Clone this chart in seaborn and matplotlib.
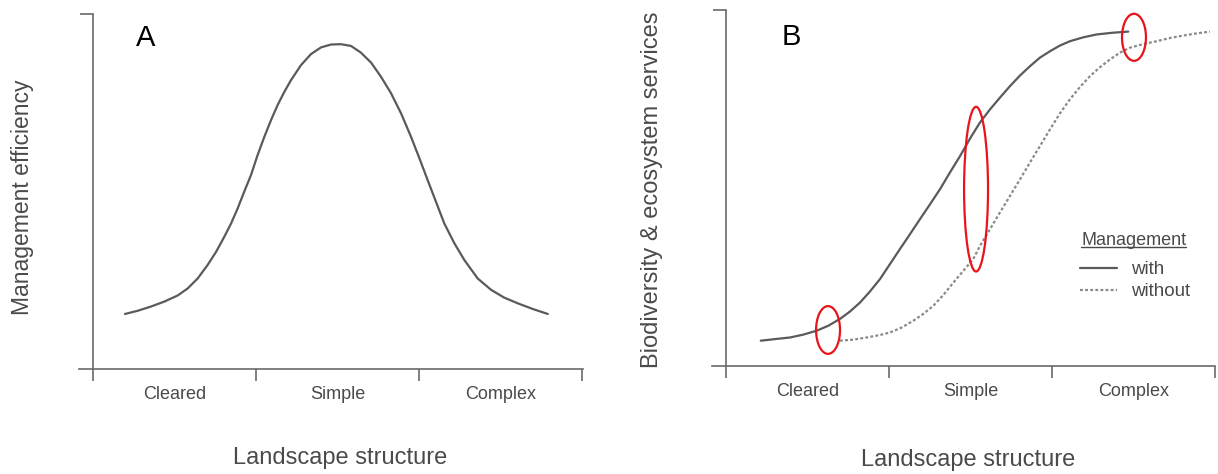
import matplotlib
matplotlib.use("Agg")
import matplotlib.pyplot as plt
import numpy as np
import pandas as pd
import seaborn as sns
from matplotlib.patches import Ellipse
from matplotlib.lines import Line2D

# ---------------- data ----------------
tick_positions = [0, 1, 2, 3]
category_positions = [0.5, 1.5, 2.5]
categories = ["Cleared", "Simple", "Complex"]

# Panel A: management efficiency along landscape structure
eff_x = [0.196, 0.274, 0.356, 0.438, 0.519, 0.581, 0.642, 0.703, 0.755, 0.806,
         0.847, 0.888, 0.928, 0.969, 1.010, 1.051, 1.092, 1.133, 1.174, 1.215,
         1.276, 1.337, 1.399, 1.460, 1.521, 1.583, 1.644, 1.706, 1.767, 1.828,
         1.890, 1.951, 2.002, 2.053, 2.104, 2.155, 2.217, 2.278, 2.360, 2.442,
         2.523, 2.606, 2.698, 2.790]
eff_y = [0.155, 0.164, 0.176, 0.190, 0.207, 0.227, 0.255, 0.293, 0.330, 0.373,
         0.410, 0.453, 0.500, 0.546, 0.603, 0.654, 0.701, 0.744, 0.781, 0.814,
         0.856, 0.887, 0.906, 0.914, 0.915, 0.910, 0.891, 0.863, 0.823, 0.777,
         0.720, 0.654, 0.594, 0.532, 0.471, 0.410, 0.354, 0.307, 0.255, 0.223,
         0.201, 0.185, 0.169, 0.155]

# Panel B: biodiversity & ecosystem services, with management
with_x = [0.213, 0.311, 0.393, 0.474, 0.556, 0.628, 0.699, 0.761, 0.822, 0.883,
          0.945, 1.006, 1.067, 1.129, 1.190, 1.252, 1.313, 1.374, 1.436, 1.497,
          1.558, 1.620, 1.681, 1.742, 1.804, 1.865, 1.926, 1.988, 2.049, 2.110,
          2.192, 2.274, 2.376, 2.468]
with_y = [0.071, 0.076, 0.080, 0.088, 0.099, 0.113, 0.132, 0.153, 0.178, 0.209,
          0.244, 0.286, 0.328, 0.370, 0.412, 0.454, 0.496, 0.543, 0.589, 0.638,
          0.683, 0.720, 0.753, 0.785, 0.815, 0.841, 0.865, 0.883, 0.899, 0.911,
          0.922, 0.930, 0.935, 0.938]
# without management
without_x = [0.699, 0.781, 0.863, 0.945, 1.006, 1.078, 1.149, 1.210, 1.272, 1.333,
             1.395, 1.456, 1.517, 1.558, 1.620, 1.681, 1.742, 1.804, 1.865, 1.926,
             1.988, 2.049, 2.110, 2.172, 2.233, 2.294, 2.356, 2.417, 2.479, 2.560,
             2.642, 2.724, 2.806, 2.888, 2.969]
without_y = [0.071, 0.074, 0.080, 0.087, 0.094, 0.108, 0.127, 0.146, 0.169, 0.199,
             0.234, 0.267, 0.300, 0.337, 0.384, 0.431, 0.477, 0.524, 0.571, 0.617,
             0.664, 0.709, 0.748, 0.783, 0.813, 0.838, 0.860, 0.879, 0.893, 0.903,
             0.911, 0.920, 0.927, 0.933, 0.938]

# highlighted regions (red ellipses)
ellipse_x = [0.626, 1.534, 2.503]
ellipse_y = [0.101, 0.496, 0.922]
ellipse_w = [0.147, 0.147, 0.147]
ellipse_h = [0.134, 0.462, 0.132]

df_a = pd.DataFrame({"x": eff_x, "y": eff_y})
df_b = pd.concat([
    pd.DataFrame({"x": with_x, "y": with_y, "Management": "with"}),
    pd.DataFrame({"x": without_x, "y": without_y, "Management": "without"}),
])

# ---------------- style ----------------
sns.set_theme(style="white")
plt.rcParams["font.family"] = ["Liberation Sans", "DejaVu Sans"]

AX_COL = "#6a6a6a"
LINE_COL = "#5a5a5a"
DOT_COL = "#8a8a8a"
TXT_COL = "#4a4a4a"

fig = plt.figure(figsize=(12.18, 4.74), dpi=100)
fig.patch.set_facecolor("white")
W, H = 1218, 474

axA = fig.add_axes([79 / W, 105 / H, 504 / W, 355 / H])
axB = fig.add_axes([712 / W, 108 / H, 503 / W, 356.5 / H])


def style_axis(ax, xlim):
    ax.set_facecolor("white")
    ax.set_xlim(*xlim)
    ax.set_ylim(0, 1)
    for s in ["top", "right"]:
        ax.spines[s].set_visible(False)
    ax.spines["left"].set_position(("data", 0))
    for s in ["left", "bottom"]:
        ax.spines[s].set_color(AX_COL)
        ax.spines[s].set_linewidth(1.2)
    ax.set_xticks(tick_positions)
    ax.set_xticklabels([""] * len(tick_positions))
    ax.set_xticks(category_positions, minor=True)
    ax.set_xticklabels(categories, minor=True)
    ax.set_yticks([1])
    ax.set_yticklabels([""])
    ax.tick_params(axis="x", which="major", direction="out", length=8.5,
                   width=1.2, color=AX_COL, bottom=True)
    ax.tick_params(axis="x", which="minor", length=0, pad=12,
                   labelsize=13, labelcolor=TXT_COL)
    ax.tick_params(axis="y", which="major", direction="out", length=9.5,
                   width=1.2, color=AX_COL, left=True)
    ax.grid(False)


# ---------------- Panel A ----------------
sns.lineplot(data=df_a, x="x", y="y", ax=axA, color=LINE_COL, linewidth=1.6,
             sort=False)
style_axis(axA, (-0.086, 3.006))
axA.set_xlabel("Landscape structure", fontsize=17, color=TXT_COL)
axA.xaxis.set_label_coords(0.518, -0.25)
axA.xaxis.label.set_va("center")
axA.set_ylabel("Management efficiency", fontsize=16.5, color=TXT_COL)
axA.yaxis.set_label_coords(-0.113, 0.485)
axA.yaxis.label.set_va("center")
axA.text(0.113, 0.932, "A", transform=axA.transAxes, fontsize=21,
         color="black", ha="left", va="center")

# ---------------- Panel B ----------------
sns.lineplot(data=df_b, x="x", y="y", hue="Management", style="Management",
             palette={"with": LINE_COL, "without": DOT_COL},
             dashes={"with": "", "without": (1.3, 1.0)},
             ax=axB, linewidth=1.6, sort=False, legend=False)
style_axis(axB, (-0.086, 3.0))
axB.set_xlabel("Landscape structure", fontsize=17, color=TXT_COL)
axB.xaxis.set_label_coords(0.509, -0.263)
axB.xaxis.label.set_va("center")
axB.set_ylabel("Biodiversity & ecosystem services", fontsize=17, color=TXT_COL)
axB.yaxis.set_label_coords(-0.119, 0.494)
axB.yaxis.label.set_va("center")
axB.text(0.139, 0.923, "B", transform=axB.transAxes, fontsize=21,
         color="black", ha="left", va="center")

for ex, ey, ew, eh in zip(ellipse_x, ellipse_y, ellipse_w, ellipse_h):
    axB.add_patch(Ellipse((ex, ey), ew, eh, facecolor="none",
                          edgecolor="#e8141b", linewidth=1.6, zorder=5))

# legend
handles = [Line2D([], [], color=LINE_COL, linewidth=1.6),
           Line2D([], [], color=DOT_COL, linewidth=1.6, dashes=(1.3, 1.0))]
leg = axB.legend(handles, ["with", "without"], loc="upper left",
                 bbox_to_anchor=(0.7316, 0.294), frameon=False, borderpad=0,
                 borderaxespad=0, handlelength=1.95, handletextpad=0.75,
                 labelspacing=0.25, fontsize=13.5)
for t in leg.get_texts():
    t.set_color(TXT_COL)

title = axB.text(0.734, 0.339, "Management", transform=axB.transAxes,
                 fontsize=13, color=TXT_COL, ha="left", va="baseline")
fig.canvas.draw()
bb = title.get_window_extent(fig.canvas.get_renderer())
inv = axB.transAxes.inverted()
(x0, _), (x1, _) = inv.transform([(bb.x0, bb.y0), (bb.x1, bb.y0)])
axB.plot([x0, x1], [0.333, 0.333], transform=axB.transAxes, color=TXT_COL,
         linewidth=1.0, clip_on=False)

fig.savefig("out.png", dpi=100, facecolor="white")
